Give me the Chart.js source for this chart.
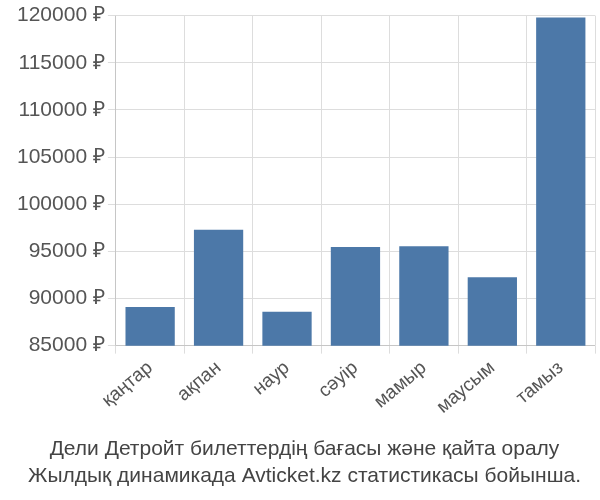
<!DOCTYPE html>
<html><head><meta charset="utf-8">
<script src="https://cdn.jsdelivr.net/npm/chart.js@4"></script>
<style>body{margin:0}#w{width:600px;height:500px}</style></head>
<body><div id="w"><canvas id="c"></canvas></div>
<script>
const categories=["қаңтар","ақпан","наур","сәуір","мамыр","маусым","тамыз"];
const prices=[89100,97300,88600,95450,95550,92250,119800];
const titleLines=["Дели Детройт билеттердің бағасы және қайта оралу","Жылдық динамикада Avticket.kz статистикасы бойынша."];
Chart.defaults.font.family="'Liberation Sans', Arial, sans-serif";
new Chart(document.getElementById('c'),{type:'bar',
data:{labels:categories,datasets:[{data:prices,backgroundColor:'#4c78a8',barPercentage:0.72,categoryPercentage:1}]},
options:{responsive:true,maintainAspectRatio:false,animation:false,
layout:{padding:{left:14,right:5,top:5,bottom:10}},
plugins:{legend:{display:false},tooltip:{enabled:false},
title:{display:true,position:'bottom',text:titleLines,color:'#444',font:{size:21,weight:'normal',lineHeight:1.3},padding:{top:14,bottom:0}}},
scales:{x:{grid:{color:'#ddd',offset:true,tickLength:8},ticks:{color:'#555',font:{size:19},maxRotation:40,minRotation:40}},
y:{min:85000,max:120000,grid:{color:'#ddd',tickLength:8},ticks:{stepSize:5000,color:'#555',font:{size:21},callback:v=>v+' ₽'}}}}});
</script></body></html>
